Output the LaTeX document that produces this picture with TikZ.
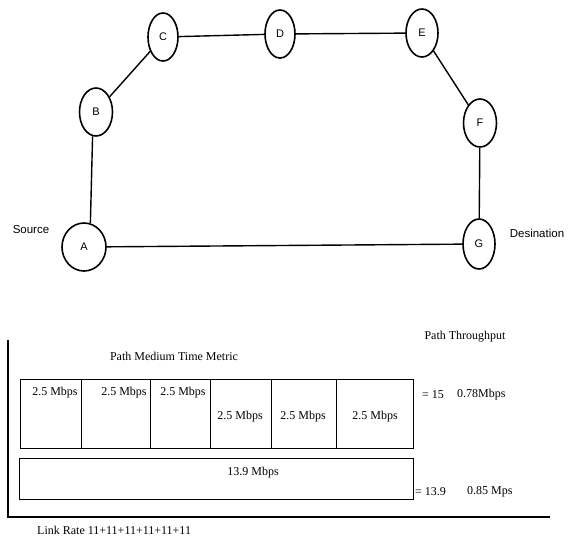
\documentclass[tikz,border=0pt]{standalone}
\usepackage{fontspec}
\setmainfont{Liberation Serif}
\newfontfamily\arialf{Liberation Sans}
\usetikzlibrary{shapes.geometric}
\begin{document}
\begin{tikzpicture}[x=1pt,y=-1pt,
  nodeell/.style={ellipse,draw,line width=1.6pt,inner sep=0pt,minimum width=31pt,minimum height=48pt,font=\arialf\fontsize{11}{13}\selectfont},
  link/.style={line width=1.4pt},
  cell/.style={draw,line width=1.4pt,minimum height=69pt,inner sep=0pt,anchor=north west},
  frame/.style={line width=1.8pt},
  rate/.style={font=\fontsize{12}{14}\selectfont,inner sep=0pt},
  sanslab/.style={font=\arialf\fontsize{11.5}{13}\selectfont,inner sep=0pt}]
\useasboundingbox (0,0) rectangle (581,539);
% graph
\node[nodeell,minimum width=44pt] (A) at (84,247) {A};
\node[nodeell,minimum width=33pt] (B) at (96,112) {B};
\node[nodeell,minimum width=30pt] (C) at (163,37) {C};
\node[nodeell,minimum width=30pt] (D) at (280,34) {D};
\node[nodeell,minimum width=32pt] (E) at (422,33) {E};
\node[nodeell,minimum width=33pt] (F) at (480,123) {F};
\node[nodeell,minimum width=32pt,minimum height=50pt] (G) at (479,244) {G};
\node[sanslab] (src) at (31,230) {Source};
\node[sanslab] (dst) at (537,233) {Desination};
\draw[link] (A.75) -- (B.262);
\draw[link] (B) -- (C);
\draw[link] (C) -- (D);
\draw[link] (D) -- (E);
\draw[link] (E) -- (F);
\draw[link] (F) -- (G);
\draw[link] (A) -- (G);
% lower chart
\coordinate (ft) at (8,340);
\coordinate (fc) at (8,517);
\coordinate (fr) at (550,517);
\draw[frame] (ft) -- (fc) -- (fr);
\node[rate] (ptt) at (465,337) {Path Throughput};
\node[rate] (pmt) at (174,356) {Path Medium Time Metric};
\node[cell,minimum width=61pt] (c1) at (20,379) {};
\node[cell,minimum width=69pt] (c2) at (81,379) {};
\node[cell,minimum width=60pt] (c3) at (150,379) {};
\node[cell,minimum width=61pt] (c4) at (210,379) {};
\node[cell,minimum width=65pt] (c5) at (271,379) {};
\node[cell,minimum width=77pt] (c6) at (336,379) {};
\node[rate] (t1) at (55,393) {2.5 Mbps};
\node[rate] (t2) at (124,393) {2.5 Mbps};
\node[rate] (t3) at (183,393) {2.5 Mbps};
\node[rate] (t4) at (240,417) {2.5 Mbps};
\node[rate] (t5) at (303,417) {2.5 Mbps};
\node[rate] (t6) at (375,417) {2.5 Mbps};
\node[cell,minimum width=394pt,minimum height=41pt] (big) at (19,458) {};
\node[rate] (t7) at (253,473) {13.9 Mbps};
\node[rate,anchor=west] (eq1) at (422,395) {= 15};
\node[rate,anchor=west] (th1) at (457,395) {0.78Mbps};
\node[rate,anchor=west] (eq2) at (415,492) {= 13.9};
\node[rate,anchor=west] (th2) at (467,492) {0.85 Mps};
\node[rate,anchor=west] (lr) at (37,530) {Link Rate 11+11+11+11+11+11};
\end{tikzpicture}
\end{document}
